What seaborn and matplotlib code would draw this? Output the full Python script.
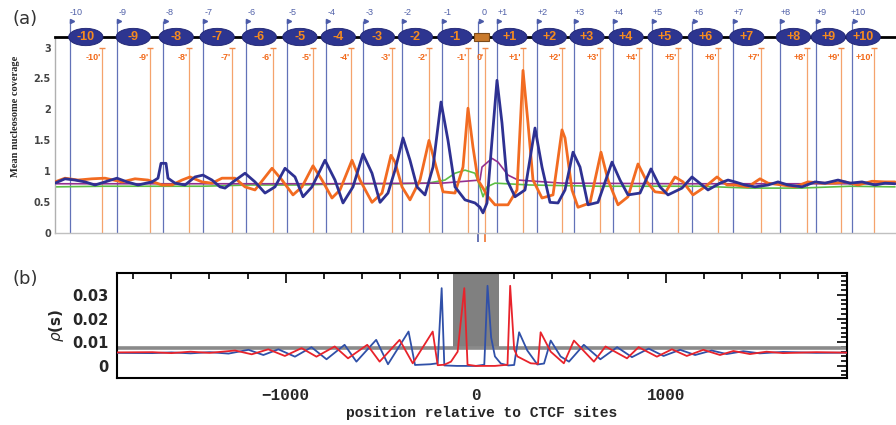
import matplotlib
matplotlib.use("Agg")
import pandas as pd
import matplotlib.pyplot as plt
from matplotlib.patches import Ellipse, Rectangle
from matplotlib.ticker import MultipleLocator
import seaborn as sns

# ---- panel (a): mean nucleosome coverage around CTCF sites (position in bp) ----
a_blue_x = [-2135, -2085, -2035, -1985, -1935, -1885, -1825, -1775, -1720, -1650,
            -1620, -1605, -1580, -1570, -1535, -1485, -1435, -1395, -1350, -1310,
            -1285, -1245, -1185, -1135, -1085, -1035, -985, -935, -895, -850,
            -785, -735, -695, -645, -595, -550, -510, -470, -435, -395,
            -360, -325, -285, -245, -205, -170, -135, -85, -35, -10,
            5, 25, 50, 75, 100, 125, 165, 215, 265, 300,
            340, 380, 415, 455, 490, 530, 580, 650, 690, 730,
            790, 845, 890, 930, 1000, 1050, 1100, 1130, 1190, 1230,
            1265, 1315, 1365, 1430, 1480, 1530, 1600, 1665, 1715, 1780,
            1840, 1900, 1965, 2015, 2065]
a_blue_y = [0.81, 0.88, 0.86, 0.83, 0.78, 0.83, 0.89, 0.83, 0.78, 0.83,
            0.89, 1.13, 1.13, 0.89, 0.81, 0.78, 0.91, 0.94, 0.86, 0.75,
            0.73, 0.83, 0.97, 0.83, 0.65, 0.75, 1.05, 0.91, 0.59, 0.75,
            1.18, 0.86, 0.49, 0.75, 1.28, 0.97, 0.50, 0.65, 1.02, 1.54,
            1.18, 0.75, 0.62, 1.07, 2.12, 1.50, 0.75, 0.54, 0.49, 0.42,
            0.33, 0.49, 1.50, 2.47, 1.78, 0.86, 0.59, 0.70, 1.70, 1.07,
            0.50, 0.49, 0.70, 1.31, 1.07, 0.46, 0.50, 1.15, 0.86, 0.62,
            0.65, 1.04, 0.75, 0.62, 0.73, 0.91, 0.78, 0.70, 0.81, 0.86,
            0.83, 0.78, 0.75, 0.78, 0.83, 0.78, 0.75, 0.83, 0.81, 0.86,
            0.81, 0.83, 0.78, 0.81, 0.80]

a_orange_x = [-2135, -2085, -2020, -1950, -1885, -1800, -1735, -1670, -1600, -1550,
              -1500, -1460, -1400, -1350, -1300, -1235, -1185, -1135, -1050, -1000,
              -945, -900, -845, -800, -750, -710, -650, -610, -550, -500,
              -455, -435, -400, -360, -310, -265, -225, -195, -135, -95,
              -70, -45, -20, 5, 30, 65, 130, 175, 205, 230,
              255, 300, 355, 400, 415, 450, 480, 540, 595, 630,
              680, 730, 780, 825, 865, 915, 965, 1005, 1055, 1115,
              1175, 1225, 1265, 1330, 1390, 1430, 1500, 1565, 1630, 1700,
              1765, 1815, 1880, 1950, 2015, 2065]
a_orange_y = [0.83, 0.89, 0.86, 0.88, 0.89, 0.83, 0.88, 0.86, 0.78, 0.78,
              0.86, 0.91, 0.83, 0.81, 0.89, 0.89, 0.75, 0.70, 1.05, 0.86,
              0.62, 0.75, 1.09, 0.86, 0.57, 0.70, 1.18, 0.86, 0.50, 0.65,
              1.26, 1.15, 0.75, 0.54, 0.86, 1.50, 1.02, 0.67, 0.65, 1.07,
              2.02, 1.39, 0.86, 0.73, 0.59, 0.46, 0.46, 0.70, 2.63, 1.78,
              0.86, 0.57, 0.62, 1.67, 1.54, 0.70, 0.42, 0.49, 1.31, 0.86,
              0.46, 0.59, 1.12, 0.83, 0.67, 0.65, 0.91, 0.83, 0.62, 0.75,
              0.91, 0.78, 0.78, 0.75, 0.88, 0.81, 0.78, 0.75, 0.83, 0.81,
              0.81, 0.83, 0.78, 0.84, 0.83, 0.83]

a_green_x = [-2135, -1900, -1650, -1400, -1160, -910, -660, -410, -270, -185,
             -135, -85, -35, -10, 5, 25, 65, 240, 590, 840,
             1090, 1340, 1590, 1840, 2065]
a_green_y = [0.75, 0.76, 0.76, 0.76, 0.78, 0.78, 0.80, 0.80, 0.81, 0.86,
             0.97, 1.02, 0.97, 0.75, 0.59, 0.75, 0.81, 0.78, 0.76, 0.76,
             0.76, 0.73, 0.73, 0.76, 0.75]

a_purple_x = [-2135, -1500, -800, -200, -10, 0, 50, 80, 130, 180, 400, 1000, 2065]
a_purple_y = [0.80, 0.80, 0.80, 0.81, 0.86, 1.07, 1.21, 1.15, 0.94, 0.86, 0.81, 0.80, 0.80]

# nucleosome positions: unprimed (blue) and primed (orange)
nuc_names = ['-10', '-9', '-8', '-7', '-6', '-5', '-4', '-3', '-2', '-1', '0',
             '+1', '+2', '+3', '+4', '+5', '+6', '+7', '+8', '+9', '+10']
blue_sites = [-2060, -1827, -1594, -1397, -1180, -977, -780, -594, -402, -202, -19,
              74, 274, 460, 654, 849, 1052, 1254, 1490, 1670, 1852]
orange_sites = [-1902, -1660, -1464, -1252, -1047, -844, -657, -452, -264, -69, 15,
                204, 399, 590, 787, 982, 1182, 1394, 1624, 1794, 1960]

# ---- panel (b): rho(s) model ----
b_blue_x = [-1885, -1700, -1600, -1500, -1400, -1300, -1195, -1117, -1038, -951,
            -864, -785, -690, -628, -524, -462, -354, -320, -240, -201,
            -180, -166, -100, 0, 44, 61, 80, 100, 131, 170,
            201, 227, 270, 323, 358, 393, 445, 489, 567, 654,
            742, 820, 908, 986, 1073, 1152, 1239, 1318, 1405, 1492,
            1614, 1789, 1950]
b_blue_y = [0.0055, 0.0054, 0.0057, 0.0053, 0.0058, 0.0052, 0.0068, 0.0046, 0.0070, 0.0039,
            0.0079, 0.0028, 0.0089, 0.0018, 0.0110, 0.0007, 0.0145, 0.0004, 0.0007, 0.0011,
            0.0328, 0.0002, 0.0, 0.0, 0.0005, 0.0338, 0.0120, 0.0040, 0.0010, 0.0002,
            0.0004, 0.0142, 0.0065, 0.0006, 0.0010, 0.0107, 0.0040, 0.0018, 0.0089, 0.0028,
            0.0079, 0.0037, 0.0073, 0.0042, 0.0068, 0.0046, 0.0065, 0.0050, 0.0062, 0.0053,
            0.0059, 0.0055, 0.0056]

b_red_x = [-1885, -1700, -1600, -1500, -1400, -1265, -1178, -1091, -1004, -916,
           -838, -742, -672, -571, -506, -401, -332, -227, -201, -166,
           -131, -96, -61, -44, 0, 100, 166, 180, 201, 218,
           288, 326, 340, 393, 462, 515, 620, 681, 794, 855,
           951, 1030, 1108, 1195, 1283, 1353, 1440, 1527, 1614, 1789,
           1950]
b_red_y = [0.0057, 0.0058, 0.0054, 0.0060, 0.0055, 0.0065, 0.0049, 0.0070, 0.0042, 0.0075,
           0.0039, 0.0082, 0.0032, 0.0089, 0.0018, 0.0110, 0.0011, 0.0145, 0.0003, 0.0005,
           0.0018, 0.0060, 0.0328, 0.0005, 0.0, 0.0, 0.0005, 0.0338, 0.0070, 0.0040,
           0.0011, 0.0009, 0.0142, 0.0060, 0.0011, 0.0107, 0.0018, 0.0082, 0.0032, 0.0079,
           0.0039, 0.0070, 0.0042, 0.0068, 0.0046, 0.0063, 0.0050, 0.0060, 0.0054, 0.0058,
           0.0056]

b_uniform = 0.0075          # gray reference level
b_band = (-120, 120)        # gray CTCF footprint

sns.set_style("white")
plt.rcParams['font.family'] = ['DejaVu Sans']
plt.rcParams['mathtext.fontset'] = 'dejavusans'
plt.rcParams['lines.solid_joinstyle'] = 'round'

fig = plt.figure(figsize=(8.96, 4.25), dpi=100)
W, H = 896, 425


def px_axes(l, t, r, b):
    return fig.add_axes([l / W, 1 - b / H, (r - l) / W, (b - t) / H])


# ================= panel (a) =================
ax_a = px_axes(55, 37, 896, 233.3)
top_a = 3.17

ax_a.vlines(blue_sites, 0, 3.43, colors='#6272b8', lw=0.9, clip_on=False, zorder=1)
ax_a.vlines(orange_sites, 0, 2.99, colors='#f5a36c', lw=0.9, clip_on=False, zorder=1)
ax_a.vlines([blue_sites[10], orange_sites[10]], -0.14, 0, colors=['#4050a0', '#f06a20'],
            lw=1.1, clip_on=False, zorder=1)
ax_a.plot([x + 12 for x in blue_sites], [3.43] * len(blue_sites), ls='none', marker='>',
          ms=3, color='#4a5aa8', clip_on=False)
ax_a.plot(orange_sites, [2.99] * len(orange_sites), ls='none', marker='_',
          ms=4, mew=1, color='#f28a4a', clip_on=False)

tracks = [
    (a_green_x, a_green_y, '#5cbf45', 1.2, 2.4),
    (a_purple_x, a_purple_y, '#93308f', 1.2, 2.5),
    (a_orange_x, a_orange_y, '#f26b21', 2.0, 3),
    (a_blue_x, a_blue_y, '#2e3192', 2.0, 3.2),
]
for xs, ys, col, lw, z in tracks:
    df = pd.DataFrame({'pos': xs, 'cov': ys})
    sns.lineplot(data=df, x='pos', y='cov', color=col, lw=lw, estimator=None,
                 sort=False, ax=ax_a, zorder=z)

ax_a.set_xlim(-2135, 2070)
ax_a.set_ylim(0, top_a)
ax_a.set_xticks([])
ax_a.set_yticks([0, 0.5, 1, 1.5, 2, 2.5, 3])
ax_a.set_yticklabels(['0', '0.5', '1', '1.5', '2', '2.5', '3'])
ax_a.tick_params(axis='y', length=0, pad=3, labelsize=7, labelcolor='#444444')
for t in ax_a.get_yticklabels():
    t.set_fontweight('bold')
ax_a.set_xlabel('')
ax_a.set_ylabel('')
ax_a.spines['right'].set_visible(False)
ax_a.spines['top'].set_color('black')
ax_a.spines['top'].set_linewidth(2)
ax_a.spines['left'].set_color('#b0b0b0')
ax_a.spines['left'].set_linewidth(1)
ax_a.spines['bottom'].set_color('#c0c0c0')
ax_a.spines['bottom'].set_linewidth(1)

for name, xb, xo in zip(nuc_names, blue_sites, orange_sites):
    xc = (xb + xo) / 2
    if name == '0':
        ax_a.add_patch(Rectangle((xc - 38, top_a - 0.06), 76, 0.12, fc='#c97a2c',
                                 ec='#7a4a1a', lw=0.8, clip_on=False, zorder=6))
    else:
        ax_a.add_patch(Ellipse((xc, top_a), 172, 0.28, fc='#2d3590', ec='#1d2270',
                               lw=0.6, clip_on=False, zorder=6))
        ax_a.text(xc, top_a, name, color='#f68b1f', fontsize=9, fontweight='bold',
                  family=['Liberation Sans'], ha='center', va='center', zorder=7)
    ax_a.text(xb + 30, 3.57, name, color='#5060a8', fontsize=6.5, ha='center',
              va='center', family=['Liberation Sans'])
    ax_a.text(xo - 6, 2.84, name + "'", color='#f26a1b', fontsize=6.5, fontweight='bold',
              ha='right', va='center', family=['Liberation Sans'])

fig.text(16 / W, 1 - 116 / H, 'Mean nucleosome coverage', rotation=90, ha='center',
         va='center', fontsize=7.5, fontweight='bold', family=['Liberation Serif'])
fig.text(12 / W, 1 - 19 / H, '(a)', fontsize=13, color='#333333', va='center')

# ================= panel (b) =================
ax_b = px_axes(117, 273, 847, 378)
ax_b.fill_between(list(b_band), b_uniform, 0.039, color='#808080', lw=0, zorder=1)
ax_b.axhline(b_uniform, color='#8a8a8a', lw=2.6, zorder=1.5)

sns.lineplot(x=b_blue_x, y=b_blue_y, color='#3050a8', lw=1.3, estimator=None,
             sort=False, ax=ax_b, zorder=3)
sns.lineplot(x=b_red_x, y=b_red_y, color='#e8232b', lw=1.3, estimator=None,
             sort=False, ax=ax_b, zorder=3.1)

ax_b.set_xlim(-1886, 1950)
ax_b.set_ylim(-0.0051, 0.0392)
ax_b.set_xticks([-1000, 0, 1000])
ax_b.set_xticklabels(['\u22121000', '0', '1000'])
ax_b.set_yticks([0, 0.01, 0.02, 0.03])
ax_b.set_yticklabels(['0', '0.01', '0.02', '0.03'])
ax_b.xaxis.set_minor_locator(MultipleLocator(200))
ax_b.yaxis.set_minor_locator(MultipleLocator(0.002))
ax_b.tick_params(which='both', direction='in', top=True, right=True, width=1.2,
                 color='black')
ax_b.tick_params(which='major', length=7)
ax_b.tick_params(which='minor', length=4)
ax_b.tick_params(axis='x', pad=7, labelsize=11.5)
ax_b.tick_params(axis='y', pad=6, labelsize=10.5)
for t in ax_b.get_xticklabels():
    t.set_fontweight('bold')
    t.set_family(['Liberation Mono'])
for t in ax_b.get_yticklabels():
    t.set_fontweight('bold')
for s in ax_b.spines.values():
    s.set_linewidth(1.5)
    s.set_color('black')
ax_b.set_xlabel('')
ax_b.set_ylabel('')

fig.text(482 / W, 1 - 413 / H, 'position relative to CTCF sites', ha='center',
         va='center', fontsize=10.5, fontweight='bold', family=['Liberation Mono'])
fig.text(56 / W, 1 - 325 / H, r'$\rho$(s)', rotation=90, ha='center', va='center',
         fontsize=11, fontweight='bold')
fig.text(12 / W, 1 - 279 / H, '(b)', fontsize=13, color='#333333', va='center')

fig.savefig('out.png', dpi=100)
